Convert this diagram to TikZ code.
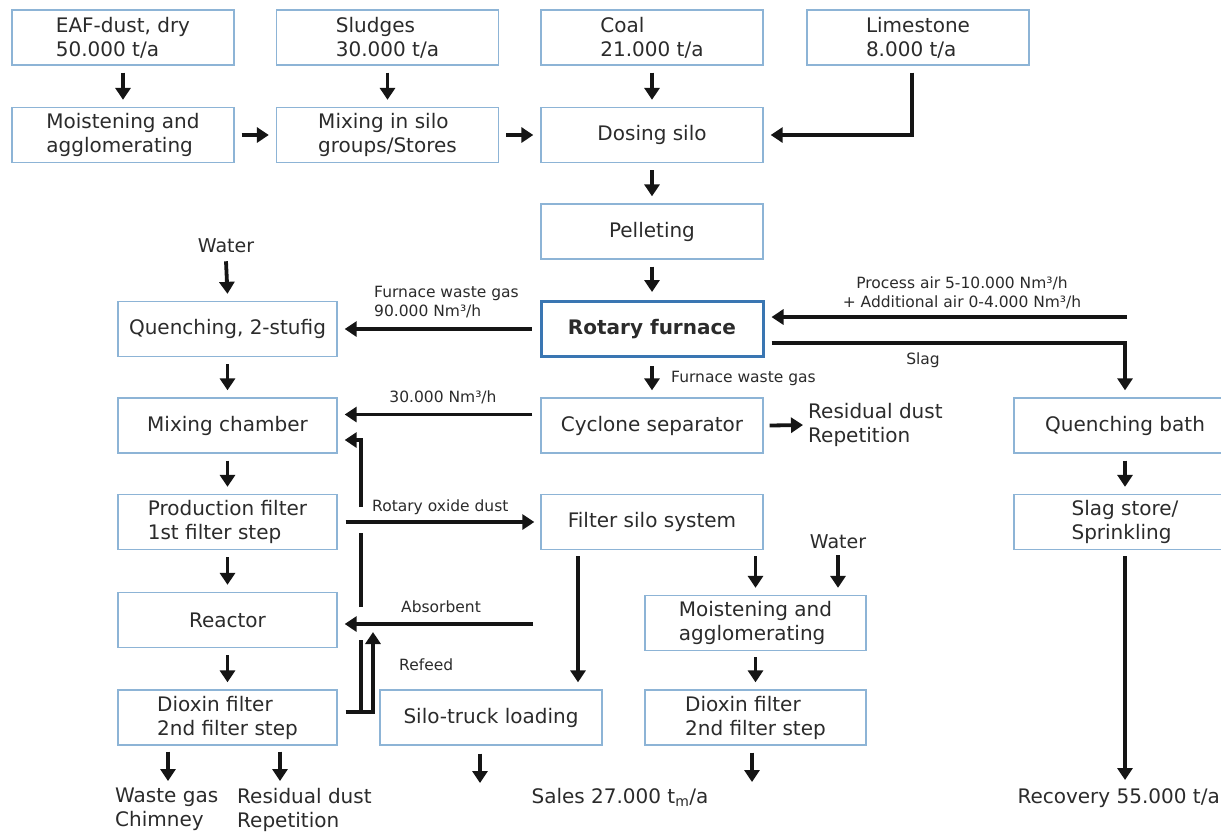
\documentclass[tikz,border=0pt]{standalone}
\usepackage{fontspec}
\setmainfont{DejaVu Sans}
\usetikzlibrary{arrows.meta,calc}
\definecolor{boxc}{HTML}{8DB4D6}
\definecolor{rotc}{HTML}{3A76B2}
\definecolor{txt}{HTML}{2B2B2B}
\definecolor{arrc}{HTML}{151515}
\begin{document}
\begin{tikzpicture}[x=1pt,y=-1pt,
  font=\fontsize{20}{24}\selectfont, text=txt,
  pbox/.style={draw=boxc, line width=1.3pt, fill=white, minimum width=222pt,
    minimum height=55pt, inner sep=0pt, align=left},
  lbox/.style={pbox, minimum width=219pt},
  rbox/.style={pbox, draw=rotc, line width=3pt, font=\fontsize{20}{24}\selectfont\bfseries},
  arr/.style={draw=arrc, line width=3.8pt, -{Triangle[width=15pt,length=12pt]}},
  seg/.style={draw=arrc, line width=3.8pt},
  lbl/.style={font=\fontsize{15.5}{19}\selectfont, inner sep=0pt, align=left},
  txtn/.style={inner sep=0pt, align=left}]
\useasboundingbox (0,0) rectangle (1221,831);
\clip (0,0) rectangle (1221,831);
\fill[white] (0,0) rectangle (1221,831);
% row 1
\node[pbox] (eaf)  at (123,37.5)  {EAF-dust, dry\\50.000 t/a};
\node[pbox] (slu)  at (387.5,37.5) {Sludges\\30.000 t/a};
\node[pbox] (coal) at (652,37.5)  {Coal\\21.000 t/a};
\node[pbox] (lime) at (918,37.5)  {Limestone\\8.000 t/a};
% row 2
\node[pbox] (moi1) at (123,135)   {Moistening and\\agglomerating};
\node[pbox] (mix)  at (387.5,135) {Mixing in silo\\groups/Stores};
\node[pbox] (dos)  at (652,135)   {Dosing silo};
\node[pbox] (pel)  at (652,231.5) {Pelleting};
% furnace row
\node[rbox] (rot)  at (652,329)   {Rotary furnace};
\node[lbox] (que)  at (227.5,329) {Quenching, 2-stufig};
% next rows
\node[lbox] (mch)  at (227.5,425.5) {Mixing chamber};
\node[pbox] (cyc)  at (652,425.5)   {Cyclone separator};
\node[pbox] (qba)  at (1125,425.5)  {Quenching bath};
\node[lbox] (pf)   at (227.5,522)   {Production filter\\1st filter step};
\node[pbox] (fs)   at (652,522)     {Filter silo system};
\node[pbox] (ss)   at (1125,522)    {Slag store/\\Sprinkling};
\node[lbox] (rea)  at (227.5,620)   {Reactor};
\node[pbox, minimum width=221pt] (m2) at (755.5,623) {Moistening and\\agglomerating};
\node[lbox] (dio)  at (227.5,717.5) {Dioxin filter\\2nd filter step};
\node[pbox] (st)   at (491,717.5)   {Silo-truck loading};
\node[pbox, minimum width=221pt] (d2) at (755.5,717.5) {Dioxin filter\\2nd filter step};
% free texts
\node[txtn, font=\fontsize{19}{23}\selectfont] (wat)  at (226,246) {Water};
\node[txtn, font=\fontsize{19}{23}\selectfont] (wat2) at (838,542) {Water};
\node[txtn, anchor=west] (res1) at (808,425) {Residual dust\\Repetition};
\node[txtn, anchor=north west] (wg) at (115,788) {Waste gas\\Chimney};
\node[txtn, anchor=north west] (rd) at (237,788) {Residual dust\\Repetition};
\node[txtn, anchor=north] (sal) at (620,788) {Sales 27.000 t\textsubscript{m}/a};
\node[txtn, anchor=north east] (rec) at (1220,788) {Recovery 55.000 t/a};
% labels
\node[lbl, anchor=west] at (374,302) {Furnace waste gas\\90.000 Nm³/h};
\node[lbl, align=center] at (962,293) {Process air 5-10.000 Nm³/h\\+ Additional air 0-4.000 Nm³/h};
\node[lbl] at (923,360) {Slag};
\node[lbl, anchor=west] at (671,378) {Furnace waste gas};
\node[lbl] at (443,397) {30.000 Nm³/h};
\node[lbl, anchor=west] at (372,507) {Rotary oxide dust};
\node[lbl] at (441,607) {Absorbent};
\node[lbl, anchor=west] at (399,665) {Refeed};
% arrows top
\draw[arr] ([yshift=-7pt]eaf.south) -- ([yshift=7pt]moi1.north);
\draw[arr] ([yshift=-7pt]slu.south) -- ([yshift=7pt]mix.north);
\draw[arr] ([yshift=-7pt]coal.south) -- ([yshift=7pt]dos.north);
\draw[arr] ([xshift=-6pt,yshift=-7pt]lime.south) |- ([xshift=7pt]dos.east);
\draw[arr] ([xshift=7pt]moi1.east) -- ([xshift=-7pt]mix.west);
\draw[arr] ([xshift=7pt]mix.east) -- ([xshift=-7pt]dos.west);
\draw[arr] ([yshift=-7pt]dos.south) -- ([yshift=7pt]pel.north);
\draw[arr] ([yshift=-7pt]pel.south) -- ([yshift=8pt]rot.north);
% furnace
\draw[arr] ([xshift=-8pt]rot.west) -- ([xshift=7pt]que.east);
\draw[arr] ([yshift=-8pt]wat.south) -- ([yshift=7pt]que.north);
\coordinate (pa) at (1127,317);
\draw[arr] (pa) -- ($(rot.east |- pa)+(7,0)$);
\draw[arr] ($(rot.east)+(7,14)$) -| ([yshift=7pt]qba.north);
\draw[arr] ([yshift=-8pt]rot.south) -- ([yshift=7pt]cyc.north);
\draw[arr] ([yshift=-7pt]que.south) -- ([yshift=7pt]mch.north);
\draw[arr] ($(cyc.west)+(-8,-11)$) -- ($(mch.east)+(7,-11)$);
\draw[arr] ([xshift=6pt]cyc.east) -- ([xshift=-5pt]res1.west);
\draw[arr] ([yshift=-7pt]qba.south) -- ([yshift=7pt]ss.north);
% left column
\draw[arr] ([yshift=-7pt]mch.south) -- ([yshift=7pt]pf.north);
\draw[arr] ([xshift=8pt]pf.east) -- ([xshift=-6pt]fs.west);
\draw[arr] ([yshift=-7pt]pf.south) -- ([yshift=7pt]rea.north);
\draw[arr] ([yshift=-7pt]rea.south) -- ([yshift=7pt]dio.north);
\coordinate (abs) at (533,624);
\draw[arr, shorten >=7pt] (abs) -- (abs -| rea.east);
% filter silo
\coordinate (fsa) at ($(fs.south)+(-74,6)$);
\draw[arr, shorten >=7pt] (fsa) -- (fsa |- st.north);
\draw[arr, shorten <=6pt, shorten >=7pt] (m2.north |- fs.south) -- (m2.north);
\draw[arr, shorten >=7pt] ([yshift=-6pt]wat2.south) -- (wat2.south |- m2.north);
\draw[arr] ([yshift=-6pt]m2.south) -- ([yshift=7pt]d2.north);
% refeed
\coordinate (rf0) at ($(dio.east)+(8,-5.5)$);
\coordinate (rf1) at (361,712);
\coordinate (rf2) at (373,712);
\draw[arr] (rf0) -- (rf2) -- ++(0,-80);
\draw[seg] (rf1) -- (361,640);
\draw[seg] (361,607) -- (361,533);
\draw[arr] (361,507) |- ($(mch.east)+(7,14.5)$);
% bottom
\coordinate (b1) at ($(dio.south)+(-59.5,6)$);
\coordinate (b2) at ($(dio.south)+(52.5,6)$);
\coordinate (b3) at ($(st.south)+(-11,8)$);
\coordinate (b4) at ($(d2.south)+(-3.5,7)$);
\draw[arr, shorten >=7pt] (b1) -- (b1 |- wg.north);
\draw[arr, shorten >=7pt] (b2) -- (b2 |- rd.north);
\draw[arr, shorten >=5pt] (b3) -- (b3 |- sal.north);
\draw[arr, shorten >=6pt] (b4) -- (b4 |- sal.north);
\draw[arr, shorten >=8pt] ([yshift=-6pt]ss.south) -- (ss.south |- rec.north);
\end{tikzpicture}
\end{document}
